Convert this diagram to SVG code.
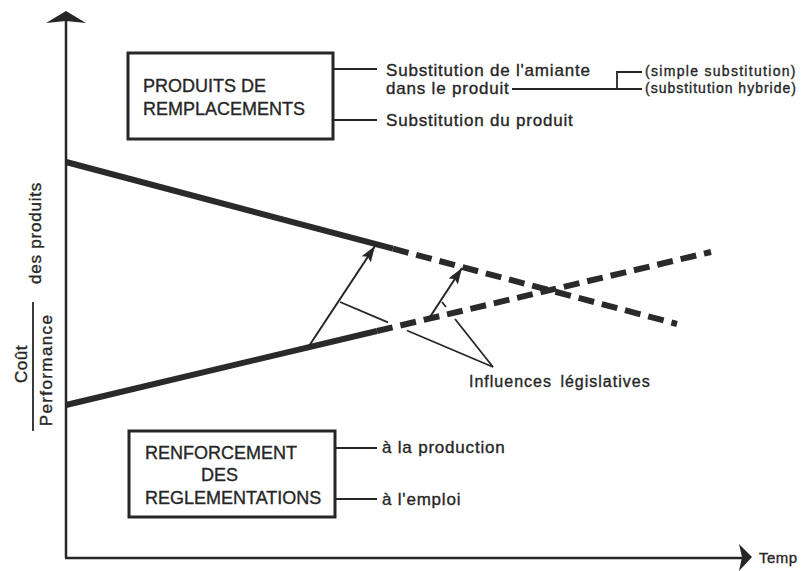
<svg xmlns="http://www.w3.org/2000/svg" width="803" height="571" viewBox="0 0 803 571">
<defs>
<style>
.t{font-family:"Liberation Sans",Arial,sans-serif;fill:#262626;stroke:#262626;stroke-width:0.35;}
.box{fill:#fff;stroke:#262626;stroke-width:3;}
.ln{stroke:#262626;stroke-width:1.8;fill:none;}
.ax{stroke:#262626;stroke-width:2.5;fill:none;}
.thick{stroke:#2a2a2a;stroke-width:6;fill:none;}
.dash{stroke:#2a2a2a;stroke-width:6;fill:none;stroke-dasharray:16 8;}
.arr{stroke:#262626;stroke-width:2;fill:none;marker-end:url(#ah);}
</style>
<marker id="ah" markerUnits="userSpaceOnUse" markerWidth="17" markerHeight="12" refX="16" refY="5.5" orient="auto">
<path d="M0,0 L16,5.5 L0,11 L3,5.5 Z" fill="#262626"/>
</marker>
</defs>
<rect width="803" height="571" fill="#fff"/>

<g id="axes">
<line class="ax" x1="66" y1="20" x2="66" y2="558"/>
<path d="M46,23 L66,11 L86,23 L66,21 Z" fill="#262626"/>
<line class="ax" x1="65" y1="558" x2="742" y2="558"/>
<path d="M739,544 L752,557 L739,571 L742,557 Z" fill="#262626"/>
<text class="t" x="759" y="563" font-size="15" letter-spacing="0.5">Temp</text>
</g>

<g id="y-label">
<text class="t" font-size="17" letter-spacing="0.5" text-anchor="middle" transform="translate(27,364) rotate(-90)">Coût</text>
<line class="ln" x1="33" y1="302" x2="33" y2="431" stroke-width="2"/>
<text class="t" font-size="17" letter-spacing="1.4" text-anchor="middle" transform="translate(52,370) rotate(-90)">Performance</text>
<text class="t" font-size="17" letter-spacing="0.8" text-anchor="middle" transform="translate(41,233) rotate(-90)">des produits</text>
</g>

<g id="curves">
<line class="thick" x1="66" y1="162" x2="393" y2="248.7"/>
<line class="dash" x1="393" y1="248.7" x2="677" y2="324"/>
<line class="thick" x1="66" y1="405" x2="377" y2="331"/>
<line class="dash" x1="377" y1="331" x2="711" y2="252"/>
</g>

<g id="node-produits">
<rect class="box" x="128" y="53" width="205" height="86"/>
<text class="t" x="143" y="92" font-size="18">PRODUITS DE</text>
<text class="t" x="143" y="115" font-size="18">REMPLACEMENTS</text>
</g>

<g id="node-substitution">
<text class="t" x="386" y="76" font-size="17" letter-spacing="0.8">Substitution de l'amiante</text>
<text class="t" x="386" y="94" font-size="17" letter-spacing="0.8">dans le produit</text>
<text class="t" x="386" y="126" font-size="17" letter-spacing="0.8">Substitution du produit</text>
<text class="t" x="645" y="76" font-size="14" letter-spacing="1.3">(simple substitution)</text>
<text class="t" x="645" y="93" font-size="14" letter-spacing="1.0">(substitution hybride)</text>
</g>

<g id="node-renforcement">
<rect class="box" x="129" y="431" width="206" height="86"/>
<text class="t" x="145" y="459" font-size="18">RENFORCEMENT</text>
<text class="t" x="201" y="481" font-size="18">DES</text>
<text class="t" x="145" y="504" font-size="18">REGLEMENTATIONS</text>
</g>

<g id="node-application">
<text class="t" x="382" y="453" font-size="17" letter-spacing="0.8">à la production</text>
<text class="t" x="382" y="505" font-size="17" letter-spacing="0.8">à l'emploi</text>
</g>

<g id="node-influences">
<text class="t" x="469" y="387" font-size="16" letter-spacing="1" word-spacing="3">Influences législatives</text>
</g>

<g id="connectors">
<line class="ln" x1="333" y1="69" x2="377" y2="69"/>
<line class="ln" x1="333" y1="120" x2="377" y2="120"/>
<line class="ln" x1="512" y1="89" x2="642" y2="89"/>
<polyline class="ln" points="617,89 617,72 642,72"/>
<line class="ln" x1="335" y1="448" x2="377" y2="448"/>
<line class="ln" x1="335" y1="499" x2="377" y2="499"/>
<line class="arr" x1="309" y1="346" x2="375" y2="246"/>
<line class="arr" x1="428" y1="320" x2="462" y2="268"/>
<line class="ln" x1="340" y1="302" x2="388" y2="322.4"/>
<line class="ln" x1="407" y1="330.5" x2="493" y2="367"/>
<line class="ln" x1="442" y1="302" x2="446" y2="307"/>
<line class="ln" x1="455" y1="319" x2="493" y2="367"/>
</g>
</svg>
